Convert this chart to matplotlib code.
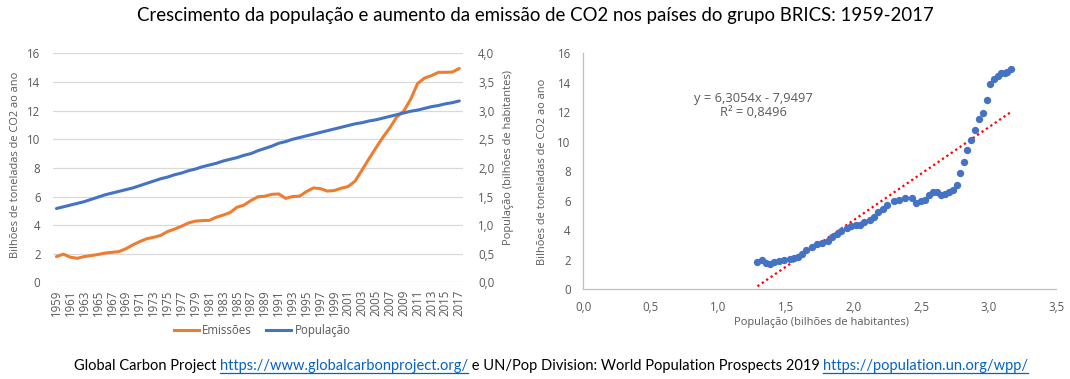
import numpy as np
import matplotlib
matplotlib.use("Agg")
import matplotlib.pyplot as plt
from matplotlib.lines import Line2D
from matplotlib.ticker import FuncFormatter

# dados
anos = list(range(1959, 2018))
emissoes = [1.80, 1.97, 1.76, 1.68, 1.80, 1.87, 1.95, 2.05, 2.10, 2.15,
            2.35, 2.62, 2.85, 3.05, 3.15, 3.28, 3.55, 3.72, 3.92, 4.15,
            4.28, 4.32, 4.33, 4.55, 4.70, 4.88, 5.25, 5.40, 5.72, 5.98,
            6.02, 6.15, 6.18, 5.87, 6.00, 6.02, 6.35, 6.60, 6.55, 6.38,
            6.42, 6.58, 6.70, 7.08, 7.85, 8.64, 9.40, 10.14, 10.80, 11.56,
            11.97, 12.80, 13.90, 14.28, 14.45, 14.68, 14.68, 14.70, 14.95]
populacao = [1.29, 1.32, 1.35, 1.38, 1.41, 1.45, 1.49, 1.53, 1.56, 1.59,
             1.62, 1.65, 1.69, 1.73, 1.77, 1.81, 1.84, 1.88, 1.91, 1.95,
             1.98, 2.02, 2.05, 2.08, 2.12, 2.15, 2.18, 2.22, 2.25, 2.30,
             2.34, 2.38, 2.43, 2.46, 2.50, 2.53, 2.56, 2.59, 2.62, 2.65,
             2.68, 2.71, 2.74, 2.77, 2.79, 2.82, 2.84, 2.87, 2.90, 2.93,
             2.96, 2.99, 3.01, 3.04, 3.07, 3.09, 3.12, 3.14, 3.17]
tend_coef = 6.3054
tend_inter = -7.9497
tend_r2 = 0.8496

titulo = "Crescimento da população e aumento da emissão de CO2 nos países do grupo BRICS: 1959-2017"
rotulo_co2 = "Bilhões de toneladas de CO2 ao ano"
rotulo_pop = "População (bilhões de habitantes)"
fonte_partes = [
    ("Global Carbon Project ", False),
    ("https://www.globalcarbonproject.org/", True),
    (" e UN/Pop Division: World Population Prospects 2019 ", False),
    ("https://population.un.org/wpp/", True),
]

LARANJA = "#ED7D31"
AZUL = "#4472C4"
CINZA_TXT = "#595959"
CINZA_GRADE = "#d9d9d9"
TAM = 8.3
TAM_ROT = 7.9

plt.rcParams["font.family"] = ["Open Sans", "DejaVu Sans"]
plt.rcParams["font.size"] = TAM


def virgula(v, pos=None, casas=1):
    return f"{v:.{casas}f}".replace(".", ",")


fig = plt.figure(figsize=(10.7, 3.79), dpi=100)

fig.text(0.5, 0.96, titulo, ha="center", va="center", fontsize=13.4, color="black",
         family=["Lato", "DejaVu Sans"])

# grafico de linhas
ax1 = fig.add_axes([0.0495, 0.255, 0.383, 0.604])
x = np.arange(len(anos))
ax1.plot(x, emissoes, color=LARANJA, lw=2.2, solid_capstyle="round")
ax2 = ax1.twinx()
ax2.plot(x, populacao, color=AZUL, lw=2.2, solid_capstyle="round")

ax1.set_xlim(-0.5, len(anos) - 0.5)
ax1.set_ylim(0, 16)
ax2.set_ylim(0, 4)
ax1.set_yticks(range(0, 17, 2))
ax2.set_yticks(np.arange(0, 4.01, 0.5))
ax2.yaxis.set_major_formatter(FuncFormatter(virgula))
ax1.set_xticks(x[::2])
ax1.set_xticklabels([str(a) for a in anos[::2]], rotation=90)
ax1.yaxis.grid(True, color=CINZA_GRADE, lw=0.9)
ax1.set_axisbelow(True)
for a in (ax1, ax2):
    for s in a.spines.values():
        s.set_visible(False)
    a.tick_params(length=0, colors=CINZA_TXT, labelsize=TAM)
ax1.tick_params(axis="y", pad=9)
ax1.tick_params(axis="x", pad=5)
ax2.tick_params(axis="y", pad=11)
ax1.set_ylabel(rotulo_co2, color=CINZA_TXT, fontsize=TAM_ROT)
ax1.yaxis.set_label_coords(-0.078, 0.512)
ax2.set_ylabel(rotulo_pop, color=CINZA_TXT, fontsize=TAM_ROT)
ax2.yaxis.set_label_coords(1.0976, 0.547)

alcas = [Line2D([], [], color=LARANJA, lw=2.2), Line2D([], [], color=AZUL, lw=2.2)]
fig.legend(alcas, ["Emissões", "População"], loc="center", bbox_to_anchor=(0.245, 0.127),
           ncol=2, frameon=False, fontsize=TAM, handlelength=2.2, columnspacing=1.2,
           handletextpad=0.3, labelcolor=CINZA_TXT)

# dispersao
ax3 = fig.add_axes([0.545, 0.2375, 0.442, 0.622])
ax3.scatter(populacao, emissoes, s=28, color=AZUL, zorder=3, linewidths=0)
xt = np.array([min(populacao), max(populacao)])
ax3.plot(xt, tend_coef * xt + tend_inter, color="red", lw=1.6, ls=(0, (1, 1.4)), zorder=2)
ax3.set_xlim(0, 3.5)
ax3.set_ylim(0, 16)
ax3.set_xticks(np.arange(0, 3.51, 0.5))
ax3.set_yticks(range(0, 17, 2))
ax3.xaxis.set_major_formatter(FuncFormatter(virgula))
ax3.spines["top"].set_visible(False)
ax3.spines["right"].set_visible(False)
for s in ("left", "bottom"):
    ax3.spines[s].set_color("#bfbfbf")
    ax3.spines[s].set_linewidth(0.9)
ax3.tick_params(length=0, colors=CINZA_TXT, labelsize=TAM, pad=9)
ax3.set_xlabel(rotulo_pop, color=CINZA_TXT, fontsize=TAM_ROT)
ax3.xaxis.set_label_coords(0.504, -0.119)
ax3.set_ylabel(rotulo_co2, color=CINZA_TXT, fontsize=TAM_ROT)
ax3.yaxis.set_label_coords(-0.074, 0.496)
eq = f"y = {virgula(tend_coef, casas=4)}x - {virgula(-tend_inter, casas=4)}\nR² = {virgula(tend_r2, casas=4)}"
ax3.text(1.26, 12.45, eq, ha="center", va="center", fontsize=9.3, color=CINZA_TXT, linespacing=1.1)

# fonte com links sublinhados
fig.canvas.draw()
rend = fig.canvas.get_renderer()
textos = []
larguras = []
for parte, link in fonte_partes:
    t = fig.text(0, 0, parte, fontsize=10.55, color="#0563C1" if link else "black",
                 va="baseline", ha="left", family=["Lato", "DejaVu Sans"])
    textos.append(t)
    larguras.append(t.get_window_extent(rend).width)
W, H = fig.bbox.width, fig.bbox.height
x0 = 551 - sum(larguras) / 2
yb = 1 - 370 / 379
for (parte, link), t, w in zip(fonte_partes, textos, larguras):
    t.set_position((x0 / W, yb))
    if link:
        fig.add_artist(Line2D([x0 / W, (x0 + w) / W], [yb - 2.5 / H, yb - 2.5 / H],
                              color="#0563C1", lw=0.9))
    x0 += w

fig.savefig("out.png", dpi=100)
